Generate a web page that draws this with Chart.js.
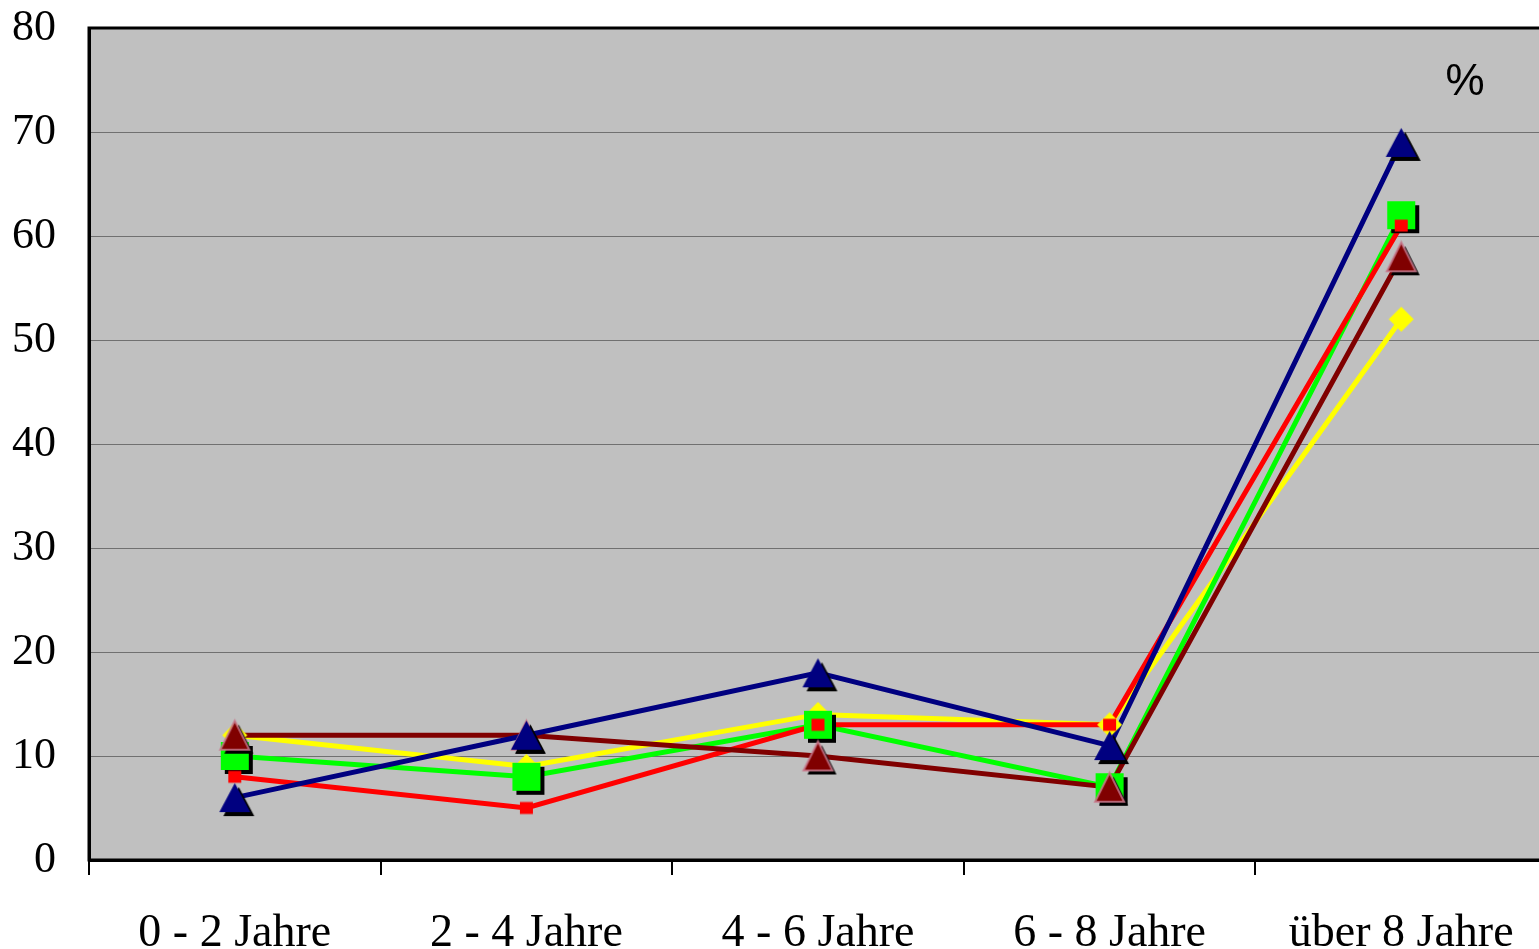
<!DOCTYPE html>
<html lang="de">
<head>
<meta charset="utf-8">
<title>Anteile nach Dauer</title>
<script src="https://cdn.jsdelivr.net/npm/chart.js@4.4.1/dist/chart.umd.min.js"></script>
<style>
  html, body { margin: 0; padding: 0; background: #ffffff; overflow: hidden; }
  #wrap { width: 1539px; height: 949px; overflow: hidden; position: relative; }
  canvas { display: block; }
</style>
</head>
<body>
<div id="wrap"><canvas id="chart" width="1560" height="949"></canvas></div>
<script>
// Kategorien und Werte (in %)
const categories = ['0 - 2 Jahre', '2 - 4 Jahre', '4 - 6 Jahre', '6 - 8 Jahre', 'über 8 Jahre'];
const seriesNavy   = [6, 12, 18, 11, 69];
const seriesYellow = [12, 9, 14, 13, 52];
const seriesGreen  = [10, 8, 13, 7, 62];
const seriesRed    = [8, 5, 13, 13, 61];
const seriesMaroon = [12, 12, 10, 7, 58];
const yTicks = [0, 10, 20, 30, 40, 50, 60, 70, 80];

// Marker als kleine Bilder mit schwarzem Schlagschatten
function makeMarker(pathFn, w, h, fill, stroke, shadowOff) {
  const pad = shadowOff + 3;
  const dim = Math.ceil(Math.max(w, h) + 2 * pad);
  const c = document.createElement('canvas');
  c.width = dim; c.height = dim;
  const ctx = c.getContext('2d');
  const cx = dim / 2;
  if (shadowOff > 0) {
    ctx.save();
    ctx.translate(cx + shadowOff, cx + shadowOff);
    pathFn(ctx, w, h);
    ctx.fillStyle = '#000000';
    ctx.fill();
    ctx.restore();
  }
  ctx.save();
  ctx.translate(cx, cx);
  pathFn(ctx, w, h);
  ctx.fillStyle = fill;
  ctx.fill();
  if (stroke) {
    ctx.lineWidth = 2;
    ctx.strokeStyle = stroke;
    ctx.stroke();
  }
  ctx.restore();
  return c;
}
function triPath(ctx, w, h) {
  ctx.beginPath();
  ctx.moveTo(0, -h / 2);
  ctx.lineTo(w / 2, h / 2);
  ctx.lineTo(-w / 2, h / 2);
  ctx.closePath();
}
function rectPath(ctx, w, h) {
  ctx.beginPath();
  ctx.rect(-w / 2, -h / 2, w, h);
}
function diamondPath(ctx, w, h) {
  ctx.beginPath();
  ctx.moveTo(0, -h / 2);
  ctx.lineTo(w / 2, 0);
  ctx.lineTo(0, h / 2);
  ctx.lineTo(-w / 2, 0);
  ctx.closePath();
}

const C_NAVY = '#000080', C_YELLOW = '#FFFF00', C_GREEN = '#00FF00', C_RED = '#FF0000', C_MAROON = '#800000';

// Reihenfolge von unten nach oben
const series = [
  { data: seriesYellow, color: C_YELLOW, marker: makeMarker(diamondPath, 25, 25, C_YELLOW, null, 0) },
  { data: seriesGreen,  color: C_GREEN,  marker: makeMarker(rectPath, 28, 28, C_GREEN, null, 4) },
  { data: seriesRed,    color: C_RED,    marker: makeMarker(rectPath, 13, 12, C_RED, null, 0) },
  { data: seriesMaroon, color: C_MAROON, marker: makeMarker(triPath, 29, 29, C_MAROON, 'rgba(200,120,140,0.85)', 4) },
  { data: seriesNavy,   color: C_NAVY,   marker: makeMarker(triPath, 31, 29, C_NAVY, null, 4) }
];

// Chart.js zeichnet den ersten Datensatz zuoberst: Marker zuerst (oben), Linien danach (unten)
const topDown = series.slice().reverse();
const datasets = [];
topDown.forEach(s => datasets.push({
  data: s.data, showLine: false, pointStyle: s.marker,
  pointRadius: 10, pointHoverRadius: 10
}));
topDown.forEach(s => datasets.push({
  data: s.data, borderColor: s.color, borderWidth: 5, backgroundColor: s.color,
  pointRadius: 0, pointHoverRadius: 0, tension: 0, fill: false
}));

const plotFrame = {
  id: 'plotFrame',
  beforeDraw(chart) {
    const a = chart.chartArea, ctx = chart.ctx;
    ctx.save();
    ctx.fillStyle = '#C0C0C0';
    ctx.fillRect(a.left, a.top, a.right - a.left, a.bottom - a.top);
    ctx.restore();
  },
  afterDatasetsDraw(chart) {
    const a = chart.chartArea, ctx = chart.ctx;
    ctx.save();
    ctx.strokeStyle = '#000000';
    ctx.lineWidth = 3;
    ctx.strokeRect(a.left, a.top, a.right - a.left, a.bottom - a.top);
    ctx.fillStyle = '#000000';
    ctx.font = '44px "Liberation Sans", Arial, sans-serif';
    ctx.textAlign = 'center';
    ctx.textBaseline = 'middle';
    ctx.fillText('%', 1465, 83);
    ctx.restore();
  }
};

new Chart(document.getElementById('chart'), {
  type: 'line',
  data: { labels: categories, datasets },
  options: {
    responsive: false,
    animation: false,
    events: [],
    layout: { padding: { top: 28, right: 13, left: 0, bottom: 0 } },
    plugins: { legend: { display: false }, tooltip: { enabled: false } },
    scales: {
      x: {
        offset: true,
        grid: { offset: true, drawOnChartArea: false, drawTicks: true, tickLength: 15, color: '#000000', lineWidth: 2 },
        border: { display: true, color: '#000000', width: 3 },
        ticks: {
          color: '#000000', padding: 31, maxRotation: 0, autoSkip: false,
          font: { family: '"Liberation Serif", "Times New Roman", serif', size: 46 }
        },
        afterFit(scale) { scale.height = 89; scale.paddingLeft = 0; scale.paddingRight = 0; }
      },
      y: {
        min: 0, max: 80,
        afterBuildTicks(scale) { scale.ticks = yTicks.map(v => ({ value: v })); },
        grid: { drawTicks: false, color: '#707070', lineWidth: 1 },
        border: { display: true, color: '#000000', width: 3 },
        ticks: {
          color: '#000000', padding: 33,
          font: { family: '"Liberation Serif", "Times New Roman", serif', size: 44 }
        },
        afterFit(scale) { scale.width = 89; scale.paddingTop = 0; scale.paddingBottom = 0; }
      }
    }
  },
  plugins: [plotFrame]
});
</script>
</body>
</html>
